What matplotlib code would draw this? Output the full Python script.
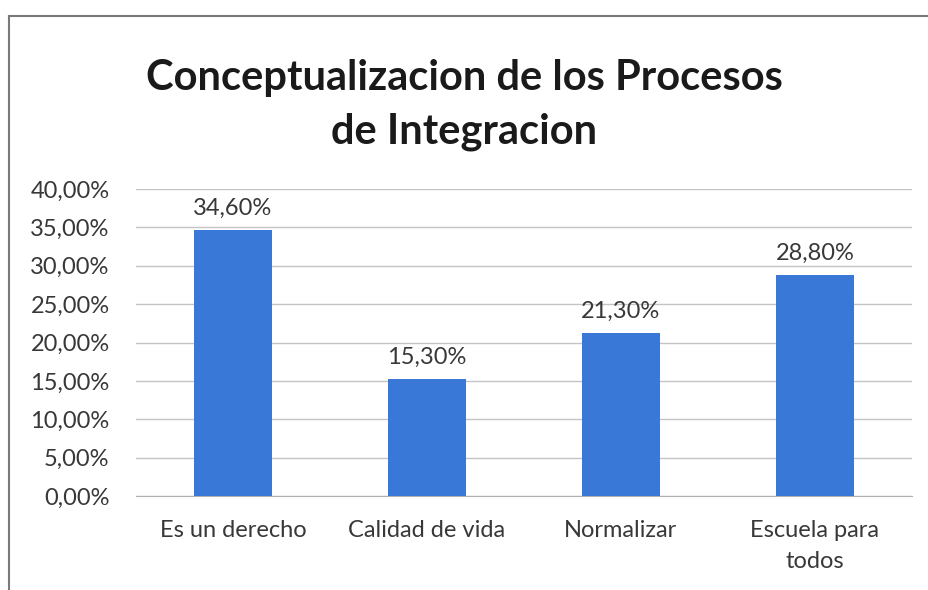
import matplotlib
matplotlib.use("Agg")
import matplotlib.pyplot as plt
from matplotlib.ticker import FuncFormatter, MultipleLocator

categories = ["Es un derecho", "Calidad de vida", "Normalizar", "Escuela para\ntodos"]
values = [34.6, 15.3, 21.3, 28.8]
title = "Conceptualizacion de los Procesos\nde Integracion"

FONT = "Lato"
W, H = 929, 590
fig = plt.figure(figsize=(W / 100, H / 100), dpi=100)
fig.patch.set_facecolor("white")

# chart border (top and left visible)
fig.add_artist(plt.Line2D([9 / W, 1.0], [1 - 16 / H, 1 - 16 / H], color="#7a7a7a", lw=1.5))
fig.add_artist(plt.Line2D([9 / W, 9 / W], [0, 1 - 16 / H], color="#7a7a7a", lw=1.5))

left, right, top, bottom = 136, 912, 189, 496
ax = fig.add_axes([left / W, 1 - bottom / H, (right - left) / W, (bottom - top) / H])

x = list(range(len(categories)))
ax.bar(x, values, width=0.4, color="#3a78d8", zorder=3)
ax.set_xlim(-0.5, len(categories) - 0.5)
ax.set_ylim(0, 40)
ax.yaxis.set_major_locator(MultipleLocator(5))
ax.yaxis.set_major_formatter(FuncFormatter(lambda v, p: f"{v:.2f}%".replace(".", ",")))
ax.grid(axis="y", color="#c4c4c4", lw=1, zorder=0)
for s in ["top", "right", "left"]:
    ax.spines[s].set_visible(False)
ax.spines["bottom"].set_color("#b0b0b0")
ax.tick_params(axis="both", length=0, labelsize=17, colors="#383838")
ax.tick_params(axis="y", pad=19)
ax.tick_params(axis="x", pad=17)
ax.set_xticks(x)
ax.set_xticklabels(categories, fontfamily=FONT, linespacing=1.6)
for lab in ax.get_yticklabels():
    lab.set_fontfamily(FONT)

for xi, v in zip(x, values):
    ax.annotate(f"{v:.2f}%".replace(".", ","), (xi, v), xytext=(0, 8), textcoords="offset points",
                ha="center", va="bottom", fontsize=17, fontfamily=FONT, color="#383838")

fig.text(0.5, 1 - 105 / H, title, ha="center", va="center", fontsize=30, fontweight="bold",
         fontfamily=FONT, color="#1a1a1a", linespacing=1.5)

fig.savefig("out.png", dpi=100)
